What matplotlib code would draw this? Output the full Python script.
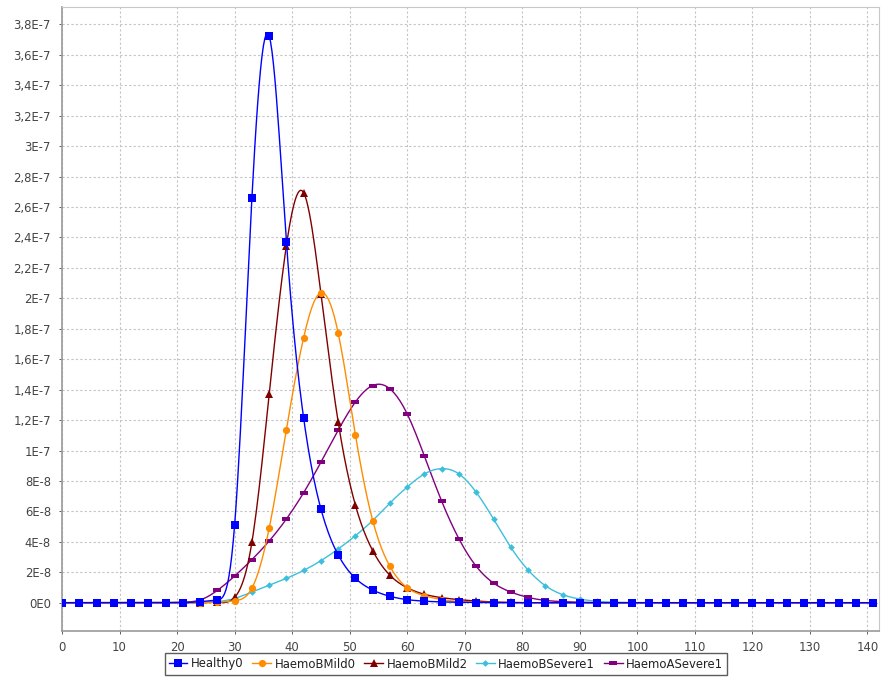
import matplotlib

matplotlib.use("Agg")
import matplotlib.pyplot as plt
import numpy as np
from matplotlib.path import Path
from matplotlib.ticker import FuncFormatter, MultipleLocator

# sampling positions shared by every series
x_values = list(range(0, 142, 3))

# densities, in units of 1e-8
healthy0 = [0, 0, 0, 0, 0, 0, 0, 0, 0.07, 0.18, 5.1, 26.56, 37.25, 23.72, 12.12, 6.16,
            3.14, 1.6, 0.83, 0.42, 0.2, 0.1, 0.05, 0.03, 0.01, 0, 0, 0, 0, 0, 0, 0,
            0, 0, 0, 0, 0, 0, 0, 0, 0, 0, 0, 0, 0, 0, 0, 0]
haemo_b_mild0 = [0, 0, 0, 0, 0, 0, 0, 0, 0, 0.03, 0.13, 0.95, 4.88, 11.37, 17.42, 20.37,
                 17.72, 11.02, 5.4, 2.38, 0.98, 0.46, 0.2, 0.08, 0.03, 0.01, 0, 0, 0, 0, 0, 0,
                 0, 0, 0, 0, 0, 0, 0, 0, 0, 0, 0, 0, 0, 0, 0, 0]
haemo_b_mild2 = [0, 0, 0, 0, 0, 0, 0, 0, 0, 0.02, 0.35, 3.96, 13.68, 23.47, 26.94, 20.3,
                 11.88, 6.4, 3.42, 1.8, 0.98, 0.55, 0.33, 0.2, 0.11, 0.05, 0.02, 0, 0, 0, 0, 0,
                 0, 0, 0, 0, 0, 0, 0, 0, 0, 0, 0, 0, 0, 0, 0, 0]
haemo_b_severe1 = [0, 0, 0, 0, 0, 0, 0, 0, 0, 0.07, 0.28, 0.7, 1.14, 1.6, 2.12, 2.76,
                   3.53, 4.4, 5.4, 6.55, 7.6, 8.46, 8.81, 8.46, 7.25, 5.5, 3.64, 2.15, 1.12, 0.53, 0.24, 0.09,
                   0.03, 0.01, 0, 0, 0, 0, 0, 0, 0, 0, 0, 0, 0, 0, 0, 0]
haemo_a_severe1 = [0, 0, 0, 0, 0, 0, 0, 0.03, 0.18, 0.81, 1.75, 2.83, 4.05, 5.5, 7.23, 9.23,
                   11.33, 13.19, 14.27, 14.05, 12.4, 9.62, 6.66, 4.19, 2.39, 1.29, 0.7, 0.35, 0.15, 0.07, 0.03, 0.01,
                   0, 0, 0, 0, 0, 0, 0, 0, 0, 0, 0, 0, 0, 0, 0, 0]

series_names = ["Healthy0", "HaemoBMild0", "HaemoBMild2", "HaemoBSevere1", "HaemoASevere1"]

# flat bar marker for the last series
bar_marker = Path([(-1, -0.5), (1, -0.5), (1, 0.5), (-1, 0.5), (-1, -0.5)],
                  [Path.MOVETO, Path.LINETO, Path.LINETO, Path.LINETO, Path.CLOSEPOLY])

styles = [
    dict(color="#0000ff", marker="s", markersize=5.2),
    dict(color="#ff8c00", marker="o", markersize=5.2),
    dict(color="#800000", marker="^", markersize=5.6),
    dict(color="#3cbfdc", marker="D", markersize=3.4),
    dict(color="#800080", marker=bar_marker, markersize=5.8),
]


def natural_spline(x, y, steps=12):
    x = np.asarray(x, dtype=float)
    y = np.asarray(y, dtype=float)
    n = len(x)
    h = np.diff(x)
    a = np.zeros((n, n))
    b = np.zeros(n)
    a[0, 0] = a[-1, -1] = 1.0
    for i in range(1, n - 1):
        a[i, i - 1] = h[i - 1]
        a[i, i] = 2 * (h[i - 1] + h[i])
        a[i, i + 1] = h[i]
        b[i] = 6 * ((y[i + 1] - y[i]) / h[i] - (y[i] - y[i - 1]) / h[i - 1])
    m = np.linalg.solve(a, b)
    xs, ys = [], []
    for i in range(n - 1):
        t = np.linspace(x[i], x[i + 1], steps, endpoint=False)
        d0 = x[i + 1] - t
        d1 = t - x[i]
        s = (m[i] * d0 ** 3 + m[i + 1] * d1 ** 3) / (6 * h[i]) \
            + (y[i] / h[i] - m[i] * h[i] / 6) * d0 \
            + (y[i + 1] / h[i] - m[i + 1] * h[i] / 6) * d1
        xs.append(t)
        ys.append(s)
    xs.append([x[-1]])
    ys.append([y[-1]])
    return np.concatenate(xs), np.concatenate(ys)


fig = plt.figure(figsize=(8.81, 6.79), dpi=100)
ax = fig.add_axes([0.0704, 0.0707, 0.9273, 0.9194])

all_series = [healthy0, haemo_b_mild0, haemo_b_mild2, haemo_b_severe1, haemo_a_severe1]
handles = []
for k, (name, vals, st) in enumerate(zip(series_names, all_series, styles)):
    vals = np.array(vals) * 1e-8
    sx, sy = natural_spline(x_values, vals)
    z = 10 - k  # first series ends up on top
    ax.plot(sx, sy, color=st["color"], lw=1.0, zorder=z)
    ax.plot(x_values, vals, linestyle="none", marker=st["marker"],
            markersize=st["markersize"], color=st["color"], markeredgewidth=0, zorder=z)
    handles.append(plt.Line2D([], [], color=st["color"], lw=1.0, marker=st["marker"],
                              markersize=st["markersize"], markeredgewidth=0, label=name))

ax.set_xlim(0, 142)
ax.set_ylim(-1.86e-8, 3.916e-7)
ax.xaxis.set_major_locator(MultipleLocator(10))
ax.yaxis.set_major_locator(MultipleLocator(2e-8))


def y_label(v, pos):
    if abs(v) < 1e-12:
        return "0E0"
    exp = int(np.floor(np.log10(abs(v)) + 1e-9))
    mant = v / 10 ** exp
    txt = f"{mant:.1f}".rstrip("0").rstrip(".").replace(".", ",")
    return f"{txt}E{exp}"


ax.yaxis.set_major_formatter(FuncFormatter(y_label))
ax.grid(True, color="#c4c4c4", linestyle=(0, (2, 2)), linewidth=0.8)
ax.set_axisbelow(True)
ax.tick_params(labelsize=8.4, colors="#444444", length=2, width=0.6)
ax.tick_params(axis="x", pad=5)
ax.tick_params(axis="y", pad=6)
for side in ["top", "right"]:
    ax.spines[side].set_color("#c8c8c8")
for side in ["left", "bottom"]:
    ax.spines[side].set_color("#9a9a9a")
    ax.spines[side].set_linewidth(1.2)

leg = fig.legend(handles=handles, loc="center", bbox_to_anchor=(446 / 881, 1 - 664 / 679),
                 ncol=5, fontsize=8.4, frameon=True, fancybox=False, handlelength=1.6,
                 handletextpad=0.3, columnspacing=0.75, borderpad=0.35, borderaxespad=0)
leg.get_frame().set_edgecolor("#333333")
leg.get_frame().set_linewidth(1.0)
for t in leg.get_texts():
    t.set_color("#222222")

fig.savefig("out.png", dpi=100)
